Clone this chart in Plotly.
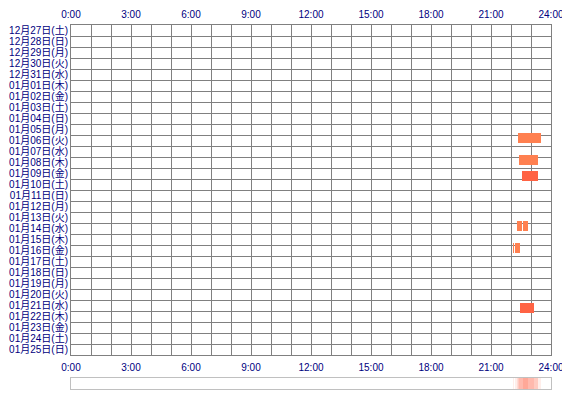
import plotly.graph_objects as go

# One row per day, from 2014-12-27 (Sat) to 2015-01-25 (Sun).
day_labels = [
    "12月27日(土)", "12月28日(日)", "12月29日(月)", "12月30日(火)", "12月31日(水)",
    "01月01日(木)", "01月02日(金)", "01月03日(土)", "01月04日(日)", "01月05日(月)",
    "01月06日(火)", "01月07日(水)", "01月08日(木)", "01月09日(金)", "01月10日(土)",
    "01月11日(日)", "01月12日(月)", "01月13日(火)", "01月14日(水)", "01月15日(木)",
    "01月16日(金)", "01月17日(土)", "01月18日(日)", "01月19日(月)", "01月20日(火)",
    "01月21日(水)", "01月22日(木)", "01月23日(金)", "01月24日(土)", "01月25日(日)",
]

# Activity sessions: day, start, end, level
session_days = ["01月06日(火)", "01月08日(木)", "01月09日(金)", "01月14日(水)",
                "01月14日(水)", "01月16日(金)", "01月16日(金)", "01月21日(水)"]
session_start = ["22:21", "22:25", "22:33", "22:18", "22:36", "22:06", "22:12", "22:27"]
session_end = ["23:30", "23:20", "23:22", "22:32", "22:50", "22:08", "22:27", "23:09"]
session_level = [1, 1, 2, 1, 1, 1, 1, 2]

hour_ticks = [0, 3, 6, 9, 12, 15, 18, 21, 24]
hour_labels = [f"{h}:00" for h in hour_ticks]

level_colors = {1: "#FF8050", 2: "#FF6344"}
label_color = "#000080"
grid_color = "#808080"
font_family = "Liberation Sans, Noto Sans CJK JP"


def to_hours(s):
    h, m = s.split(":")
    return int(h) + int(m) / 60


row_of = {d: i for i, d in enumerate(day_labels)}
starts = [to_hours(s) for s in session_start]
ends = [to_hours(s) for s in session_end]

fig = go.Figure()

# sessions as horizontal bars on the day grid
for lvl, col in level_colors.items():
    idx = [i for i, l in enumerate(session_level) if l == lvl]
    fig.add_trace(go.Bar(
        orientation="h",
        y=[row_of[session_days[i]] + 0.5 for i in idx],
        x=[ends[i] - starts[i] for i in idx],
        base=[starts[i] for i in idx],
        width=0.9,
        marker=dict(color=col, line=dict(width=0)),
        showlegend=False,
        hoverinfo="skip",
    ))

# invisible trace so the top hour axis is drawn
fig.add_trace(go.Scatter(x=[0, 24], y=[0, 0], xaxis="x2", mode="markers",
                         marker=dict(opacity=0), showlegend=False, hoverinfo="skip"))

# summary strip: how many sessions cover each minute of the day
counts = [0] * 1440
for s, e in zip(starts, ends):
    for m in range(int(round(s * 60)), int(round(e * 60))):
        counts[m] += 1
fig.add_trace(go.Heatmap(
    x=[(m + 0.5) / 60 for m in range(1440)],
    y=[0],
    z=[counts],
    xaxis="x3",
    yaxis="y2",
    zmin=0,
    zmax=5,
    colorscale=[[0, "#FFFFFF"], [1, "#FFA898"]],
    showscale=False,
    hoverinfo="skip",
))

axis_font = dict(family=font_family, size=10, color=label_color)
strip_top = 11 / 364
main_bottom = 34 / 364

# the page body adds ~7px on the top and left, so the margins absorb it
fig.update_layout(
    width=570,
    height=400,
    margin=dict(l=63, r=27, t=17, b=19),
    paper_bgcolor="white",
    plot_bgcolor="white",
    bargap=0,
    xaxis=dict(
        range=[0, 24], anchor="y", tickvals=hour_ticks, ticktext=hour_labels,
        tickfont=axis_font, showgrid=True, gridcolor=grid_color, gridwidth=1,
        minor=dict(dtick=1, tick0=0, showgrid=True, gridcolor=grid_color, gridwidth=1),
        showline=True, linecolor=grid_color, mirror=True, zeroline=False, ticks="",
        automargin=False, ticklabelstandoff=3,
    ),
    xaxis2=dict(
        range=[0, 24], overlaying="x", side="top", anchor="y",
        tickvals=hour_ticks, ticktext=hour_labels, tickfont=axis_font,
        showgrid=False, zeroline=False, ticks="", automargin=False,
        ticklabelstandoff=4,
    ),
    xaxis3=dict(
        range=[0, 24], anchor="y2", showticklabels=False, showgrid=False,
        zeroline=False, ticks="", showline=True, linecolor="#C0C0C0", mirror=True,
        automargin=False,
    ),
    yaxis=dict(
        domain=[main_bottom, 1], range=[30, 0],
        tickvals=[i + 0.5 for i in range(len(day_labels))], ticktext=day_labels,
        tickfont=axis_font, showgrid=False, ticks="",
        minor=dict(dtick=1, tick0=0, showgrid=True, gridcolor=grid_color, gridwidth=1),
        showline=True, linecolor=grid_color, mirror=True, zeroline=False,
        ticklabelstandoff=0, automargin=False,
    ),
    yaxis2=dict(
        domain=[0, strip_top], range=[-0.5, 0.5], showticklabels=False,
        showgrid=False, zeroline=False, ticks="", showline=True,
        linecolor="#C0C0C0", mirror=True, automargin=False,
    ),
)

fig.write_html("out.html")
